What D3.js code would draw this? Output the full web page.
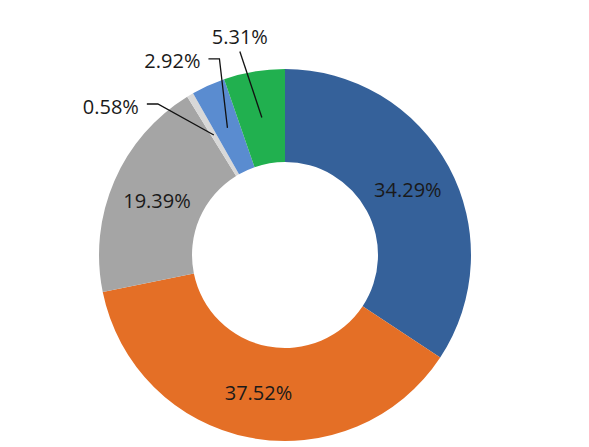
<!DOCTYPE html>
<html>
<head>
<meta charset="utf-8">
<script src="https://cdn.jsdelivr.net/npm/d3@7"></script>
<style>
  html, body { margin: 0; padding: 0; background: #fff; }
  svg { display: block; }
</style>
</head>
<body>
<svg id="chart" width="589" height="447"></svg>
<script>
// ---- data ----
const categories = ["A", "B", "C", "D", "E", "F"];
const values = [34.29, 37.52, 19.39, 0.58, 2.92, 5.31];
const labels = ["34.29%", "37.52%", "19.39%", "0.58%", "2.92%", "5.31%"];
const colors = ["#35619A", "#E46F26", "#A5A5A5", "#D8D8D8", "#5A8CD0", "#21B04F"];
// outside label placement: null = inside label; otherwise offset of the leader elbow
// from the slice centroid, leader tail length, and text anchor side
const outside = [null, null, null,
  { elbow: [-56, -31], tail: -11, anchor: "end" },
  { elbow: [-8, -69], tail: -11, anchor: "end" },
  { elbow: [-22, -66], tail: 0, anchor: "middle" }];

const W = 589, H = 447;
const cx = 285, cy = 255, rOuter = 186, rInner = 93;
const svg = d3.select("#chart");
const g = svg.append("g").attr("transform", `translate(${cx},${cy})`);

const pie = d3.pie().sort(null).value(d => d.v);
const data = categories.map((c, i) => ({ c, v: values[i], i }));
const arcs = pie(data);
const arc = d3.arc().innerRadius(rInner).outerRadius(rOuter);
const mid = d3.arc().innerRadius((rInner + rOuter) / 2).outerRadius((rInner + rOuter) / 2);

g.selectAll("path.slice").data(arcs).enter().append("path")
  .attr("class", "slice")
  .attr("d", arc)
  .attr("fill", d => colors[d.data.i]);

const font = "'Open Sans', 'Liberation Sans', sans-serif";

arcs.forEach(d => {
  const i = d.data.i;
  const [mx, my] = mid.centroid(d);
  const o = outside[i];
  if (!o) {
    g.append("text")
      .attr("x", mx).attr("y", my + 1)
      .attr("text-anchor", "middle")
      .attr("dominant-baseline", "central")
      .attr("font-family", font).attr("font-size", 20)
      .attr("fill", "#1a1a1a")
      .text(labels[i]);
  } else {
    const ex = mx + o.elbow[0], ey = my + o.elbow[1];
    const pts = [[mx, my], [ex, ey]];
    if (o.tail) pts.push([ex + o.tail, ey]);
    g.append("path")
      .attr("d", d3.line()(pts))
      .attr("fill", "none")
      .attr("stroke", "#111")
      .attr("stroke-width", 1.3);
    const last = pts[pts.length - 1];
    if (o.anchor === "middle") {
      g.append("text")
        .attr("x", last[0]).attr("y", last[1] - 15)
        .attr("text-anchor", "middle")
        .attr("dominant-baseline", "central")
        .attr("font-family", font).attr("font-size", 20)
        .attr("fill", "#1a1a1a")
        .text(labels[i]);
    } else {
      g.append("text")
        .attr("x", last[0] - 8).attr("y", last[1] + 2)
        .attr("text-anchor", "end")
        .attr("dominant-baseline", "central")
        .attr("font-family", font).attr("font-size", 20)
        .attr("fill", "#1a1a1a")
        .text(labels[i]);
    }
  }
});
</script>
</body>
</html>
